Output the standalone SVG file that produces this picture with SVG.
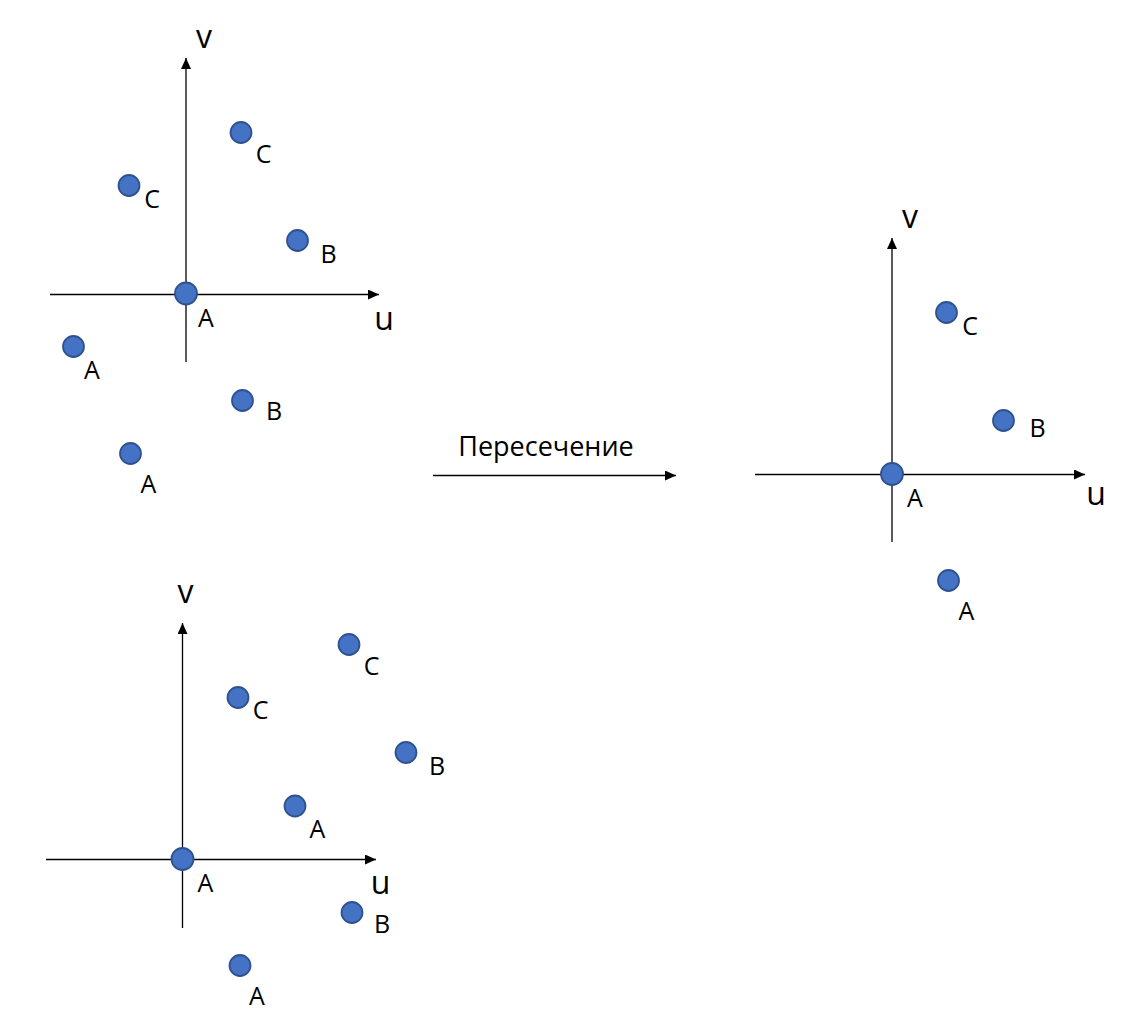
<svg xmlns="http://www.w3.org/2000/svg" width="1124" height="1026" viewBox="0 0 1124 1026">
<defs>
<marker id="ah" markerUnits="userSpaceOnUse" markerWidth="11" markerHeight="10" refX="11" refY="5" orient="auto"><path d="M0,0 L11,5 L0,10 z" fill="#000"/></marker>
<style>
.ax{stroke:#000;stroke-width:1.3;fill:none}
.arr{marker-end:url(#ah)}
.pt{fill:#4472C4;stroke:#2F528F;stroke-width:1.8}
.lb{font-family:"Open Sans","Liberation Sans",sans-serif;font-size:25px;fill:#000;text-anchor:middle}
.tt{font-family:"Open Sans","Liberation Sans",sans-serif;font-size:27px;fill:#000;text-anchor:middle}
.al{font-family:"Open Sans","Liberation Sans",sans-serif;font-size:32px;fill:#000;text-anchor:middle}
</style>
</defs>
<rect width="1124" height="1026" fill="#fff"/>
<g id="connectors">
<line class="ax arr" x1="186" y1="362" x2="186" y2="58"/>
<line class="ax arr" x1="50" y1="294.5" x2="379" y2="294.5"/>
<line class="ax arr" x1="182.5" y1="928" x2="182.5" y2="623"/>
<line class="ax arr" x1="46" y1="859.5" x2="376" y2="859.5"/>
<line class="ax arr" x1="892" y1="542" x2="892" y2="238"/>
<line class="ax arr" x1="755" y1="474.5" x2="1085" y2="474.5"/>
<line class="ax arr" x1="433" y1="475.5" x2="676" y2="475.5"/>
</g>
<g id="plot1">
<text class="al" x="204" y="48">v</text>
<text class="al" x="384" y="330">u</text>
<g id="p1-o"><circle class="pt" cx="186" cy="293.5" r="11"/><text class="lb" x="206" y="327">A</text></g>
<g id="p1-c1"><circle class="pt" cx="241" cy="132.5" r="10.5"/><text class="lb" x="263.5" y="163">C</text></g>
<g id="p1-c2"><circle class="pt" cx="129" cy="185.5" r="10.5"/><text class="lb" x="152" y="208">C</text></g>
<g id="p1-b1"><circle class="pt" cx="297.5" cy="240.5" r="10.5"/><text class="lb" x="328.5" y="263">B</text></g>
<g id="p1-a1"><circle class="pt" cx="73.5" cy="346.5" r="10.5"/><text class="lb" x="92" y="379">A</text></g>
<g id="p1-b2"><circle class="pt" cx="242.5" cy="400.5" r="10.5"/><text class="lb" x="274" y="420">B</text></g>
<g id="p1-a2"><circle class="pt" cx="130.5" cy="453.5" r="10.5"/><text class="lb" x="148.5" y="493">A</text></g>
</g>
<g id="plot2">
<text class="al" x="185.5" y="603">v</text>
<text class="al" x="380.5" y="894">u</text>
<g id="p2-o"><circle class="pt" cx="182.5" cy="859" r="11"/><text class="lb" x="205.5" y="892">A</text></g>
<g id="p2-c1"><circle class="pt" cx="349" cy="644.5" r="10.5"/><text class="lb" x="371.5" y="675">C</text></g>
<g id="p2-c2"><circle class="pt" cx="238" cy="697.5" r="10.5"/><text class="lb" x="260.5" y="719">C</text></g>
<g id="p2-b1"><circle class="pt" cx="406" cy="752.5" r="10.5"/><text class="lb" x="437" y="775">B</text></g>
<g id="p2-a1"><circle class="pt" cx="295" cy="806" r="10.5"/><text class="lb" x="317.5" y="838">A</text></g>
<g id="p2-b2"><circle class="pt" cx="352" cy="912.5" r="10.5"/><text class="lb" x="382" y="932.5">B</text></g>
<g id="p2-a2"><circle class="pt" cx="240" cy="965.5" r="10.5"/><text class="lb" x="257" y="1005">A</text></g>
</g>
<g id="label-intersect"><text class="tt" x="546" y="456">Пересечение</text></g>
<g id="plot3">
<text class="al" x="910" y="228">v</text>
<text class="al" x="1096" y="505">u</text>
<g id="p3-o"><circle class="pt" cx="892" cy="474" r="11"/><text class="lb" x="915" y="507">A</text></g>
<g id="p3-c"><circle class="pt" cx="946.5" cy="312.5" r="10.5"/><text class="lb" x="970" y="335">C</text></g>
<g id="p3-b"><circle class="pt" cx="1003.5" cy="420.5" r="10.5"/><text class="lb" x="1037.5" y="437">B</text></g>
<g id="p3-a"><circle class="pt" cx="948.5" cy="580.5" r="10.5"/><text class="lb" x="966.5" y="620">A</text></g>
</g>
</svg>
